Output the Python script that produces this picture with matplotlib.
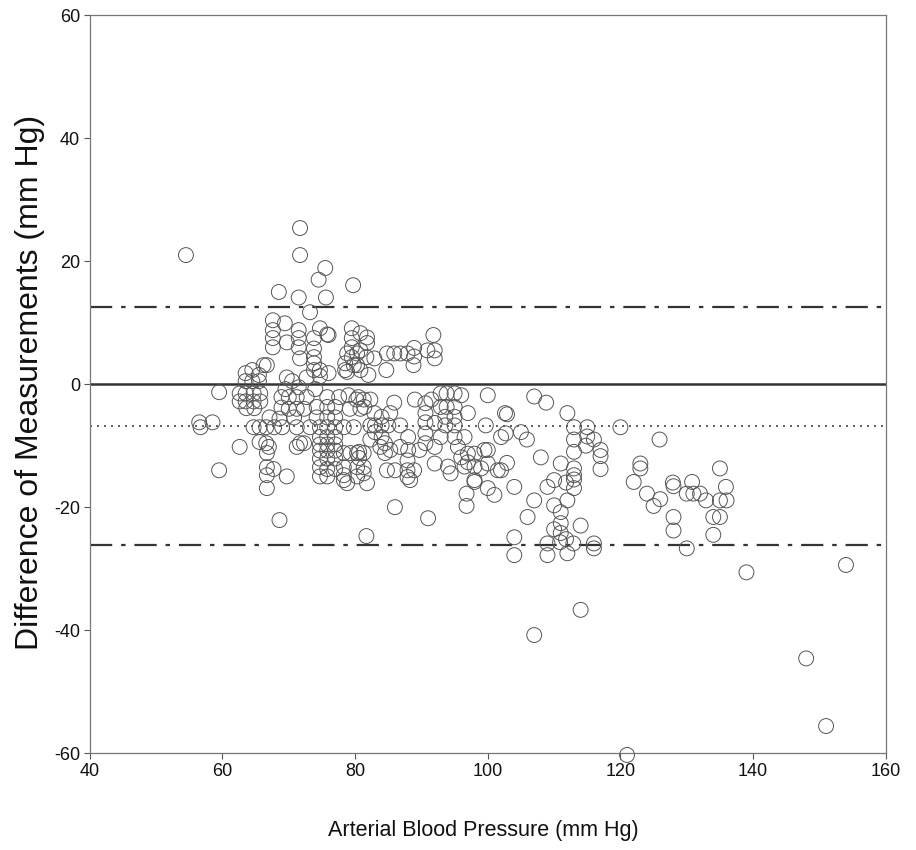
import matplotlib
matplotlib.use("Agg")
import matplotlib.pyplot as plt
import numpy as np

# Bland-Altman data: mean arterial blood pressure (x) vs difference (y)
pts = [
    # isolated left
    (54.5, 21), (56.5, -6.2), (56.7, -7), (58.5, -6.2), (59.5, -1.3), (59.5, -14),
    # cluster 62-67
    (62.6, -1.5), (63.5, -1.5), (64.7, -1.5), (65.7, -1.5), (62.6, -2.8), (63.5, -2.8),
    (64.7, -2.8), (65.7, -2.8), (63.6, -3.9), (64.8, -3.9), (63.5, 1.8), (63.5, 0.5),
    (64.5, 0.5), (65.5, 0.5), (66.2, 3.1), (64.5, 2.3), (65.5, 1.5), (62.6, -10.2),
    (64.7, -7), (65.6, -9.4), (65.6, -7), (66.6, -7), (66.6, -9.6), (66.7, -11.2),
    (66.7, -13.5), (66.7, -14.8), (66.7, -16.9), (67, -10.2), (67.7, -13.8),
    # cluster 67-76 positive
    (67.6, 10.4), (67.6, 8.8), (67.6, 7.5), (67.6, 6), (69.4, 9.9), (69.7, 6.8),
    (68.5, 15), (71.7, 25.4), (71.7, 21), (71.5, 14.1), (71.5, 8.8), (71.5, 7.5),
    (71.5, 6), (71.7, 4.2), (72.7, 1.1), (69.7, 1.1), (66.7, 3.1), (73.2, 11.7),
    (74.7, 9.1), (73.8, 7.5), (75.8, 8.1), (73.8, 5.8), (73.8, 4.4), (73.8, 3.4),
    (73.8, 2.3), (74.7, 2.3), (74.7, 1.3), (75.5, 18.9), (74.5, 17), (75.6, 14.1),
    (76, 8), (76, 1.8), (70.5, 0.5),
    # cluster 78-92 positive
    (79.7, 16.1), (79.5, 9.1), (79.5, 7.5), (80.8, 8.3), (79.5, 6), (80.8, 5.5),
    (79.5, 4.4), (78.5, 3.4), (80.3, 3.1), (78.5, 2.3), (80.8, 2.3), (81.8, 6.7),
    (81.8, 7.6), (78.8, 5), (80.3, 5), (82.9, 4.2), (81.7, 4.4), (79.8, 3.1),
    (78.8, 2), (84.8, 5), (85.9, 5), (86.8, 5), (87.9, 5), (88.9, 5.9), (88.9, 4.5),
    (91.8, 8), (90.9, 5.5), (92, 5.5), (92, 4.2), (84.7, 2.3), (88.8, 3.1), (82, 1.5),
    # negative cluster 67-82
    (68.9, -2.1), (70, -2.1), (71.2, -2.1), (72.7, -2.1), (75.8, -2.1), (77.6, -2.1),
    (79, -1.8), (80.5, -2.1), (68.9, -3.8), (70, -4), (71.2, -4), (72.3, -4),
    (74.2, -3.7), (75.8, -3.7), (77, -3.7), (79.2, -4), (80.8, -4), (67.1, -5.4),
    (68.6, -5.6), (70.8, -5.4), (74.2, -5.4), (75.8, -5.4), (77, -5.4), (67.8, -7),
    (69, -7), (71.2, -7), (73.2, -7), (74.7, -7), (75.8, -7), (77, -7), (78.3, -7),
    (79.8, -7), (74.7, -8.6), (75.8, -8.6), (77, -8.6), (71.2, -10.2), (72.3, -9.6),
    (71.7, -9.6), (74.7, -9.8), (75.8, -9.8), (77, -9.8), (74.7, -10.8), (75.8, -10.8),
    (77, -10.8), (78.3, -11.2), (79.3, -11.2), (80.3, -11.2), (81.3, -11.2),
    (74.7, -12.1), (75.8, -12.1), (77, -12.1), (69.7, -15), (68.6, -22.1),
    (74.7, -13.5), (75.8, -13.8), (77, -13.8), (74.7, -15), (75.8, -15), (78.3, -14.8),
    (80.3, -15), (81.3, -14.5), (78.3, -13.5), (80.3, -13.5), (81.3, -13.5),
    (78.3, -15.6), (78.8, -16.1), (81.8, -16.1), (69.5, -0.8), (71.5, -0.5), (74, -0.8),
    # negative cluster 80-90
    (80.2, -2.5), (81.3, -2.5), (82.3, -2.5), (85.9, -3), (89, -2.5), (81.4, -3.7),
    (82.9, -4.7), (84, -5.3), (85.3, -4.7), (82.3, -6.7), (83, -6.7), (84, -6.7),
    (85, -6.7), (86.8, -6.7), (83, -7.8), (84, -8.6), (82.3, -9), (83.8, -10.2),
    (85.3, -10.7), (86.8, -10.2), (88, -8.6), (88, -10.7), (87.9, -12.4), (87.9, -14),
    (89.7, -10.7), (88.3, -15.6), (84.8, -14), (80.6, -12), (80.6, -11), (84.5, -9.6),
    (84.5, -11.2), (88.9, -14), (87.9, -15.1), (86, -14), (86, -20), (81.7, -24.7),
    # negative cluster 90-103
    (90.6, -3.1), (90.6, -4.7), (90.6, -6.2), (90.6, -8), (90.6, -9.6), (92, -6.3),
    (92.9, -1.5), (93.8, -1.5), (95, -1.5), (96, -1.8), (91.5, -2.5), (92.9, -3.7),
    (93.8, -3.7), (95, -3.7), (93.6, -5.3), (95, -5.3), (97, -4.7), (93.6, -6.7),
    (95, -6.7), (92.9, -8.6), (95, -8.6), (96.5, -8.6), (95.5, -10.2), (97, -11.3),
    (98, -11.3), (92, -10.2), (92, -12.9), (94, -13.4), (94.4, -14.5), (96.5, -13.4),
    (98, -13.4), (99, -13.7), (98, -15.6), (100, -12.9), (99.7, -6.7), (102, -8.6),
    (102.6, -4.7), (99.5, -10.7), (101.5, -14), (96, -11.9), (97, -12.7), (96.8, -17.8),
    (96.8, -19.8), (98, -15.9), (100, -16.9), (101, -18), (91, -21.8), (100, -1.8),
    (100, -10.7),
    # right region
    (107, -2), (108.8, -3), (102.9, -4.9), (112, -4.7), (102.7, -8), (105, -7.8),
    (105.9, -9), (113, -7), (115, -7), (113, -9), (115, -8.5), (116, -9), (113, -11),
    (114.8, -10), (117, -10.7), (117, -11.7), (117, -13.8), (120, -7), (125.9, -9),
    (102.9, -12.8), (102, -14), (108, -11.9), (111, -12.9), (113, -13.7), (113, -14.8),
    (113, -15.5), (111.8, -16), (110, -15.6), (109, -16.7), (113, -16.9), (104, -16.7),
    (107, -18.9), (110, -19.7), (112, -18.9), (111, -20.8), (106, -21.6), (110, -23.6),
    (111, -22.6), (111, -24.2), (114, -23), (111.8, -25.2), (110.9, -25.7), (109, -25.9),
    (112.9, -25.9), (112, -27.5), (109, -27.8), (104, -24.9), (104, -27.8), (116, -25.9),
    (116, -26.7), (123, -12.9), (123, -13.7), (122, -15.9), (124, -17.8), (125, -19.8),
    (126, -18.7), (127.9, -16), (128, -16.6), (130.8, -15.9), (130, -17.8), (131, -17.8),
    (128, -21.6), (128, -23.8), (130, -26.7), (132, -17.8), (132.9, -18.9), (135, -13.7),
    (135.9, -16.7), (135, -18.9), (136, -18.9), (134, -21.6), (135, -21.6), (134, -24.5),
    (139, -30.6), (154, -29.4), (114, -36.7), (107, -40.8), (148, -44.6), (151, -55.6),
    (121, -60.3),
]

abp = [p[0] for p in pts]
diff = [p[1] for p in pts]

zero_line = 0.0
mean_diff = -6.8
upper_loa = 12.6
lower_loa = -26.2

xticks = [40, 60, 80, 100, 120, 140, 160]
yticks = [-60, -40, -20, 0, 20, 40, 60]

plt.rcParams['font.family'] = ['Liberation Sans', 'DejaVu Sans']
plt.rcParams['axes.unicode_minus'] = False

fig = plt.figure(figsize=(9.16, 8.5), dpi=100)
ax = fig.add_axes([0.098, 0.114, 0.869, 0.868])

ax.scatter(abp, diff, s=115, facecolors='none', edgecolors='#555555',
           linewidths=0.7, zorder=3, clip_on=False)

ax.axhline(zero_line, color='#333333', lw=1.8, zorder=2)
ax.axhline(mean_diff, color='#444444', lw=1.2, ls=(0, (1.2, 3)), zorder=2)
ax.axhline(upper_loa, color='#333333', lw=1.6, ls=(0, (10, 4, 2, 4)), zorder=2)
ax.axhline(lower_loa, color='#333333', lw=1.6, ls=(0, (10, 4, 2, 4)), zorder=2)

ax.set_xlim(40, 160)
ax.set_ylim(-60, 60)
ax.set_xticks(xticks)
ax.set_yticks(yticks)
ax.tick_params(direction='out', length=4, width=0.8, color='#555555',
               labelsize=13, labelcolor='#111111', pad=3)
for s in ax.spines.values():
    s.set_color('#777777')
    s.set_linewidth(0.9)

fig.text(0.528, 0.023, 'Arterial Blood Pressure (mm Hg)', ha='center', va='center',
         fontsize=15.5, color='#111111')
fig.text(0.033, 0.55, 'Difference of Measurements (mm Hg)', ha='center', va='center',
         rotation=90, fontsize=23, color='#111111')

fig.savefig('out.png', dpi=100)
